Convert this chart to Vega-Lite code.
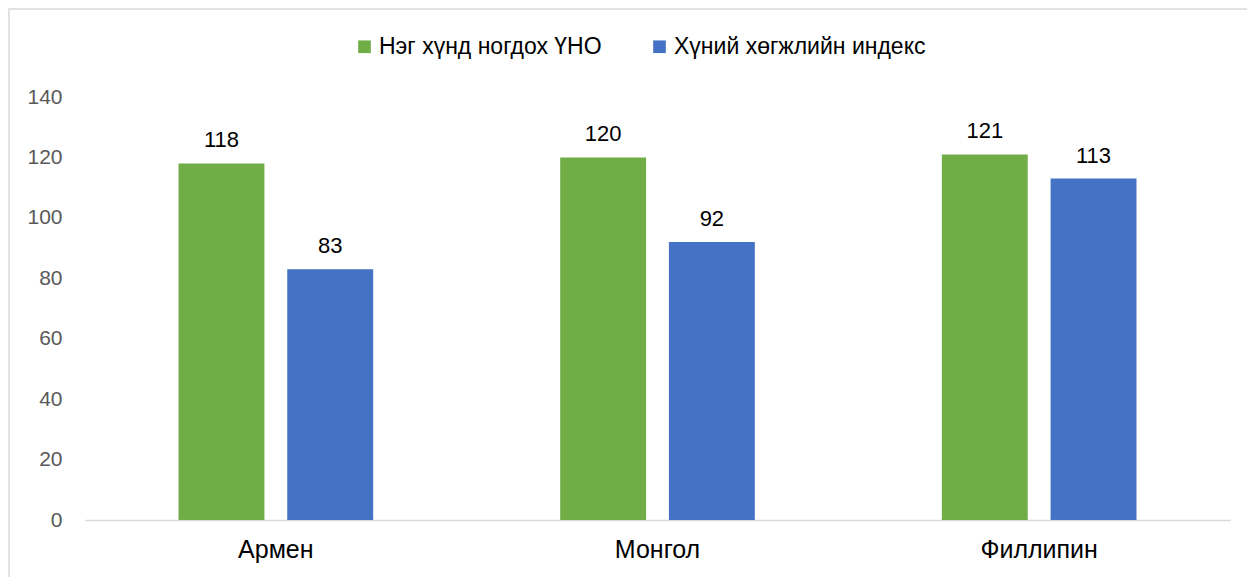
{
  "$schema": "https://vega.github.io/schema/vega-lite/v6.json",
  "autosize": "none",
  "width": 1250,
  "height": 580,
  "padding": {"left": 9, "top": 9, "right": 0, "bottom": 0},
  "background": "white",
  "config": {
    "font": "Liberation Sans",
    "view": {"stroke": "#d9d9d9", "strokeWidth": 1.5, "fill": "white"}
  },
  "data": {
    "values": [
      {"country": "Армен", "series": "Нэг хүнд ногдох ҮНО", "value": 118},
      {"country": "Армен", "series": "Хүний хөгжлийн индекс", "value": 83},
      {"country": "Монгол", "series": "Нэг хүнд ногдох ҮНО", "value": 120},
      {"country": "Монгол", "series": "Хүний хөгжлийн индекс", "value": 92},
      {"country": "Филлипин", "series": "Нэг хүнд ногдох ҮНО", "value": 121},
      {"country": "Филлипин", "series": "Хүний хөгжлийн индекс", "value": 113}
    ]
  },
  "encoding": {
    "x": {
      "field": "country",
      "type": "nominal",
      "sort": ["Армен", "Монгол", "Филлипин"],
      "scale": {"range": [76, 1221], "paddingInner": 0, "paddingOuter": 0},
      "axis": {
        "title": null,
        "offset": -69,
        "domainColor": "#d9d9d9",
        "domainWidth": 1.5,
        "ticks": false,
        "labelAngle": 0,
        "labelFontSize": 25,
        "labelColor": "#000000",
        "labelPadding": 17
      }
    },
    "xOffset": {
      "field": "series",
      "type": "nominal",
      "sort": ["Нэг хүнд ногдох ҮНО", "Хүний хөгжлийн индекс"],
      "scale": {"paddingInner": 0.21, "paddingOuter": 0.86}
    },
    "y": {
      "field": "value",
      "type": "quantitative",
      "scale": {"domain": [0, 140], "range": [511, 88], "nice": false},
      "axis": {
        "title": null,
        "offset": -76,
        "domain": false,
        "ticks": false,
        "grid": false,
        "values": [0, 20, 40, 60, 80, 100, 120, 140],
        "labelFontSize": 21,
        "labelColor": "#595959",
        "labelPadding": 23
      }
    }
  },
  "layer": [
    {
      "mark": {"type": "bar"},
      "encoding": {
        "color": {
          "field": "series",
          "type": "nominal",
          "sort": ["Нэг хүнд ногдох ҮНО", "Хүний хөгжлийн индекс"],
          "scale": {"range": ["#70AD47", "#4472C4"]},
          "legend": {
            "title": null,
            "orient": "none",
            "direction": "horizontal",
            "legendX": 344,
            "legendY": 26,
            "symbolType": "square",
            "symbolSize": 160,
            "symbolStrokeWidth": 0,
            "labelFontSize": 23,
            "labelLimit": 0,
            "labelColor": "#000000",
            "labelOffset": 3,
            "columnPadding": 46
          }
        }
      }
    },
    {
      "mark": {"type": "text", "baseline": "alphabetic", "dy": -16, "fontSize": 22, "color": "#000000"},
      "encoding": {"text": {"field": "value", "type": "quantitative"}}
    }
  ]
}
